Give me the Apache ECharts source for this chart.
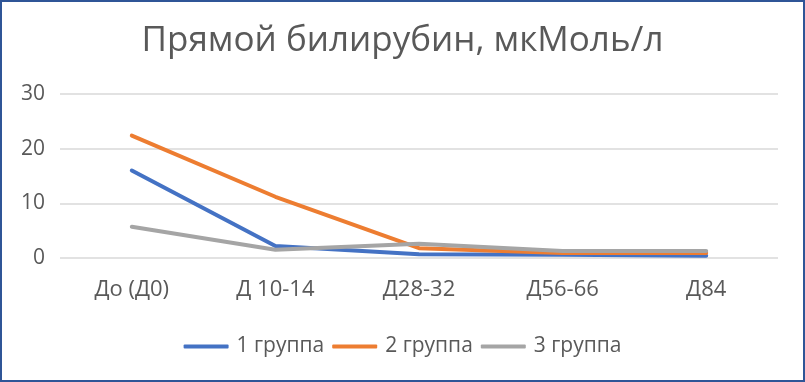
<!DOCTYPE html>
<html><head><meta charset="utf-8">
<script src="https://cdn.jsdelivr.net/npm/echarts@6/dist/echarts.min.js"></script>
<style>html,body{margin:0;padding:0;background:#fff}#c{width:805px;height:382px;box-sizing:border-box;border:2px solid #2F5597}</style>
</head><body><div id="c"></div>
<script>
const categories = ['До (Д0)', 'Д 10-14', 'Д28-32', 'Д56-66', 'Д84'];
const group1 = [16.0, 2.2, 0.7, 0.6, 0.4];
const group2 = [22.4, 11.2, 1.8, 0.9, 0.9];
const group3 = [5.7, 1.5, 2.6, 1.3, 1.3];
const seriesNames = ['1 группа', '2 группа', '3 группа'];
const yTicks = {min: 0, max: 30, interval: 10};

const chart = echarts.init(document.getElementById('c'), null, {renderer: 'canvas'});
const font = 'Open Sans';
const colors = ['#4472C4', '#ED7D31', '#A5A5A5'];
const data = [group1, group2, group3];
chart.setOption({
  animation: false,
  title: {text: 'Прямой билирубин, мкМоль/л', left: 'center', top: 17,
    textStyle: {fontFamily: font, fontSize: 35, fontWeight: 'normal', color: '#595959'}},
  grid: {left: 58, right: 25, top: 92, bottom: 122, containLabel: false},
  legend: {bottom: 18, left: 'center', itemWidth: 45, itemHeight: 4, itemGap: 8,
    icon: 'roundRect',
    textStyle: {fontFamily: font, fontSize: 21, color: '#595959', padding: [0, 0, 0, 3]},
    data: seriesNames},
  xAxis: {type: 'category', data: categories, boundaryGap: true,
    axisLine: {show: false}, axisTick: {show: false},
    axisLabel: {fontFamily: font, fontSize: 22, color: '#595959', margin: 21}},
  yAxis: {type: 'value', min: yTicks.min, max: yTicks.max, interval: yTicks.interval,
    axisLine: {show: false}, axisTick: {show: false},
    splitLine: {lineStyle: {color: '#D9D9D9', width: 1.5}},
    axisLabel: {fontFamily: font, fontSize: 21, color: '#595959', margin: 15}},
  series: data.map((d, i) => ({
    name: seriesNames[i], type: 'line', data: d, symbol: 'none',
    color: colors[i],
    lineStyle: {width: 4, color: colors[i], cap: 'round', join: 'round'}
  }))
});
</script></body></html>
